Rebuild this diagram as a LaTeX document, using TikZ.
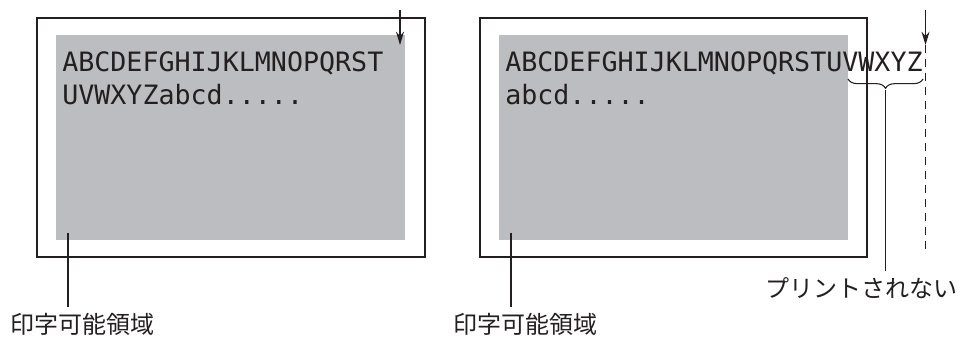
\documentclass[tikz,border=0pt]{standalone}
\usepackage{fontspec}
\setmonofont{DejaVu Sans Mono}
\newfontfamily\jpfont{Noto Sans CJK JP}
\usepackage{xcolor}
\usetikzlibrary{positioning,arrows.meta,decorations.pathreplacing}
\definecolor{areagray}{HTML}{BCBDC0}
\definecolor{inkgray}{HTML}{231F20}

\begin{document}
\begin{tikzpicture}[
  x=0.75pt, y=-0.75pt,
  paper/.style={draw=inkgray, line width=1.6pt},
  printarea/.style={fill=areagray},
  sample/.style={font=\ttfamily\fontsize{20}{24}\selectfont, text=inkgray, inner sep=0pt, anchor=base west},
  jplabel/.style={font=\jpfont\fontsize{18}{22}\selectfont, text=inkgray, inner sep=0pt},
  leader/.style={draw=inkgray, line width=0.8pt},
  edgearrow/.style={-{Stealth[length=10pt, width=6pt]}, draw=inkgray, line width=0.8pt},
  cutline/.style={draw=inkgray, line width=1.1pt, dash pattern=on 6pt off 4.5pt},
]
\useasboundingbox (0,0) rectangle (957,338);

% Left: text wraps inside the printable area
\draw[paper] (37,18) rectangle (425,257);
\fill[printarea] (56,35) rectangle (405,240);
\node[sample] (rowLa) at (62,72) {ABCDEFGHIJKLMNOPQRST};
\node[sample] (rowLb) at (62,105) {UVWXYZabcd.....};
\coordinate (edgeL) at (400,10);
\coordinate (edgeLend) at (400,45);
\draw[edgearrow] (edgeL) -- (edgeLend);

\coordinate (areaL) at (68,233);
\node[jplabel, anchor=west] (lblL) at (10,324) {印字可能領域};
\draw[leader] (areaL) -- (areaL |- 0,307);

% Right: text runs past the edge
\draw[paper] (480,18) rectangle (867,257);
\fill[printarea] (499,35) rectangle (848,240);
\node[sample] (rowRa) at (505,72) {ABCDEFGHIJKLMNOPQRSTUVWXYZ};
\node[sample] (rowRb) at (505,105) {abcd.....};
\coordinate (edgeR) at (925.5,10);
\coordinate (edgeRend) at (925.5,45);
\draw[edgearrow] (edgeR) -- (edgeRend);
\draw[cutline] (edgeRend) -- (925.5,253);

\draw[leader, decorate, decoration={brace, mirror, amplitude=7pt}]
  (848,79) -- (923,79) coordinate[midway] (braceR);
\coordinate (tipR) at (885.5,90);
\node[jplabel, anchor=west] (lblNP) at (765,288) {プリントされない};
\draw[leader] (tipR) -- (tipR |- 0,271);

\coordinate (areaR) at (511,233);
\node[jplabel, anchor=west] (lblR) at (453,324) {印字可能領域};
\draw[leader] (areaR) -- (areaR |- 0,307);

\end{tikzpicture}
\end{document}
